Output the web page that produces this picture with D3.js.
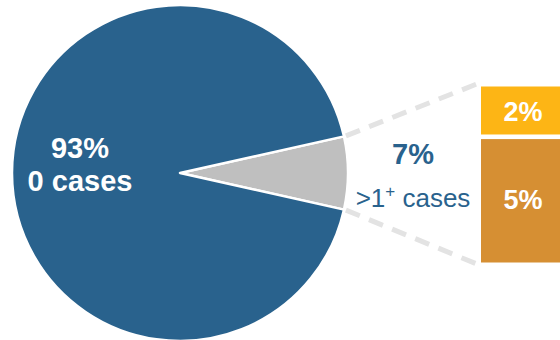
<!DOCTYPE html>
<html>
<head>
<meta charset="utf-8">
<script src="https://cdn.jsdelivr.net/npm/d3@7"></script>
<style>
  html, body { margin: 0; padding: 0; background: #fff; }
  svg { display: block; font-family: "Liberation Sans", Arial, sans-serif; }
</style>
</head>
<body>
<svg id="chart" width="560" height="340"></svg>
<script>
// Pie slices (percent)
const sliceNames = ['>1+ cases', '0 cases'];
const sliceValues = [7, 93];
// Breakdown of the 7% slice (top to bottom)
const breakNames = ['2%', '5%'];
const breakValues = [2, 5];

const BLUE = '#29628d';
const GREY = '#bfbfbf';
const BAR_COLORS = ['#fdb515', '#d68f33'];

const svg = d3.select('#chart');
const cx = 180, cy = 173, R = 168;

const total = d3.sum(sliceValues);
const half = sliceValues[0] / total * Math.PI;
const pie = d3.pie().sort(null)
  .startAngle(Math.PI / 2 - half)
  .endAngle(Math.PI / 2 - half + 2 * Math.PI);
const arcs = pie(sliceValues);
const arc = d3.arc().innerRadius(0).outerRadius(R);

const g = svg.append('g').attr('transform', `translate(${cx},${cy})`);

// Dashed connector lines first (behind everything)
const yBar = d3.scaleLinear().domain([0, d3.sum(breakValues)]).range([86.5, 262.5]);
const barX = 481;
const a0 = arcs[0].startAngle, a1 = arcs[0].endAngle;
const edge = a => [cx + (R + 2) * Math.sin(a), cy - (R + 2) * Math.cos(a)];
const connectors = [[edge(a0), [barX - 3, yBar(0) - 3]], [edge(a1), [barX - 3, yBar(d3.sum(breakValues)) + 2]]];
svg.insert('g', 'g').selectAll('line')
  .data(connectors)
  .join('line')
  .attr('x1', d => d[0][0]).attr('y1', d => d[0][1])
  .attr('x2', d => d[1][0]).attr('y2', d => d[1][1])
  .attr('stroke', '#e3e3e3')
  .attr('stroke-width', 5)
  .attr('stroke-dasharray', '15,10');

g.selectAll('path')
  .data(arcs)
  .join('path')
  .attr('d', arc)
  .attr('fill', (d, i) => i === 0 ? GREY : BLUE)
  .attr('stroke', '#fff')
  .attr('stroke-width', 2.5)
  .attr('stroke-linejoin', 'round');

// Big slice label
const labelArc = d3.arc().innerRadius(100).outerRadius(100);
const [lx, ly] = labelArc.centroid(arcs[1]);
const bigLabel = g.append('text')
  .attr('text-anchor', 'middle')
  .attr('fill', '#fff')
  .attr('font-weight', 'bold')
  .attr('font-size', 29);
bigLabel.append('tspan').attr('x', lx).attr('y', ly - 15).text(sliceValues[1] + '%');
bigLabel.append('tspan').attr('x', lx).attr('y', ly + 18).text(sliceNames[1]);

// Small slice label, outside
const sx = 413;
svg.append('text')
  .attr('x', sx).attr('y', 164)
  .attr('text-anchor', 'middle')
  .attr('fill', BLUE)
  .attr('font-weight', 'bold')
  .attr('font-size', 29)
  .text(sliceValues[0] + '%');
const small = svg.append('text')
  .attr('x', sx).attr('y', 207)
  .attr('text-anchor', 'middle')
  .attr('fill', BLUE)
  .attr('font-size', 26);
small.append('tspan').text('>1');
small.append('tspan').attr('dy', -10).attr('font-size', 17).text('+');
small.append('tspan').attr('dy', 10).text(' cases');

// Stacked breakdown bar
let acc = 0;
const stacked = breakValues.map((v, i) => {
  const s = { name: breakNames[i], y0: acc, y1: acc + v, color: BAR_COLORS[i] };
  acc += v;
  return s;
});
const gap = 2.3;
svg.append('g').selectAll('rect')
  .data(stacked)
  .join('rect')
  .attr('x', barX)
  .attr('width', 90)
  .attr('y', (d, i) => yBar(d.y0) + (i > 0 ? gap : 0))
  .attr('height', (d, i) => yBar(d.y1) - yBar(d.y0) - (i > 0 ? gap : 0) - (i < stacked.length - 1 ? gap : 0))
  .attr('fill', d => d.color);
svg.append('g').selectAll('text')
  .data(stacked)
  .join('text')
  .attr('x', 523)
  .attr('y', d => (yBar(d.y0) + yBar(d.y1)) / 2 + 9.5)
  .attr('text-anchor', 'middle')
  .attr('fill', '#fff')
  .attr('font-weight', 'bold')
  .attr('font-size', 27)
  .text(d => d.name);
</script>
</body>
</html>
